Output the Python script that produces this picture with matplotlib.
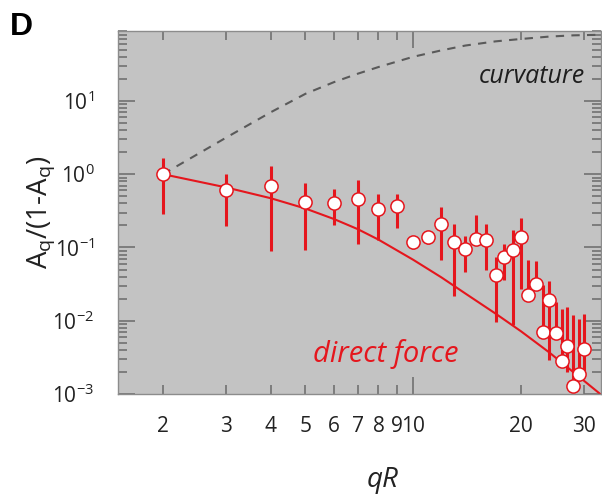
import numpy as np
import matplotlib
matplotlib.use("Agg")
import matplotlib.pyplot as plt

plt.rcParams['font.family'] = ['Open Sans', 'DejaVu Sans']
plt.rcParams['mathtext.fontset'] = 'custom'
plt.rcParams['mathtext.rm'] = 'Open Sans'
plt.rcParams['mathtext.it'] = 'Open Sans:italic'

# measured points: qR, A_q/(1-A_q), error bar top and bottom
qR = [2, 3, 4, 5, 6, 7, 8, 9, 10, 11, 12, 13, 14, 15, 16,
      17, 18, 19, 20, 21, 22, 23, 24, 25, 26, 27, 28, 29, 30]
ratio = [1.0, 0.61, 0.695, 0.415, 0.41, 0.46, 0.333, 0.37, 0.117, 0.141,
         0.211, 0.118, 0.095, 0.132, 0.125, 0.042, 0.074, 0.091, 0.138,
         0.0225, 0.0316, 0.0070, 0.0192, 0.0069, 0.0028, 0.0045, 0.0013,
         0.00186, 0.0041]
err_hi = [1.68, 1.02, 1.31, 0.75, 0.62, 0.83, 0.53, 0.53, 0.142, 0.166,
          0.355, 0.211, 0.144, 0.279, 0.209, 0.075, 0.112, 0.173, 0.252,
          0.068, 0.065, 0.031, 0.035, 0.018, 0.0143, 0.0153, 0.012,
          0.0106, 0.0124]
err_lo = [0.288, 0.198, 0.089, 0.092, 0.205, 0.11, 0.126, 0.185, 0.094, 0.113,
          0.067, 0.022, 0.046, 0.115, 0.049, 0.0096, 0.036, 0.0088, 0.027,
          0.020, 0.027, 0.006, 0.0029, 0.006, 0.0024, 0.002, 0.0011,
          0.0015, 0.0017]

# model curves
direct_x = [2, 3, 4, 5, 6, 7, 8, 10, 12, 14, 17, 20, 24, 28, 33.5]
direct_y = [1.0, 0.66, 0.47, 0.34, 0.245, 0.178, 0.128, 0.068, 0.039,
            0.0235, 0.0125, 0.0072, 0.0037, 0.0020, 0.00098]
curv_x = [2, 3, 4, 5, 6, 7, 8, 10, 12, 14, 17, 20, 24, 28, 33.5]
curv_y = [1.0, 3.15, 7.0, 12.5, 18.0, 23.5, 29, 40, 49, 57, 65, 70,
          75.5, 78.5, 80]

x_minor = [2, 3, 4, 5, 6, 7, 8, 9, 20, 30]
y_major = [1e-3, 1e-2, 1e-1, 1e0, 1e1]
y_labels = [r'$\mathregular{10^{-3}}$', r'$\mathregular{10^{-2}}$',
            r'$\mathregular{10^{-1}}$', r'$\mathregular{10^{0}}$',
            r'$\mathregular{10^{1}}$']

red = '#e5161d'
W, H = 602, 494

fig = plt.figure(figsize=(6.02, 4.94), dpi=100)
ax = fig.add_axes([118 / W, 100 / H, 483 / W, 363 / H])
ax.set_facecolor('#c3c3c3')

ax.plot(curv_x, curv_y, color='#5a5a5a', lw=1.5, dashes=(4, 3.5), zorder=2)
ax.plot(direct_x, direct_y, color=red, lw=1.5, zorder=2)

y = np.array(ratio)
yerr = [y - np.array(err_lo), np.array(err_hi) - y]
ax.errorbar(qR, ratio, yerr=yerr, fmt='none', ecolor=red, elinewidth=2.2,
            capsize=0, zorder=3)
ax.plot(qR, ratio, 'o', ms=9.5, mfc='white', mec=red, mew=1.1, zorder=4)

ax.set_xscale('log')
ax.set_yscale('log')
ax.set_xlim(1.497, 33.5)
ax.set_ylim(1e-3, 85)

ax.set_xticks([10], labels=['10'])
ax.set_xticks(x_minor, labels=[str(v) for v in x_minor], minor=True)
ax.set_yticks(y_major, labels=y_labels)
y_minor = [m * 10.0 ** e for e in range(-3, 2) for m in range(2, 10)]
ax.set_yticks(y_minor, minor=True)
ax.yaxis.set_minor_formatter(plt.NullFormatter())

ax.tick_params(which='both', direction='in', top=True, right=True,
               color='#6a6a6a', width=1.1, labelsize=15, labelcolor='#222222')
ax.tick_params(which='major', length=12)
ax.tick_params(which='minor', length=6.5)
ax.tick_params(axis='x', which='both', pad=16)
ax.tick_params(axis='y', which='both', pad=17)

for s in ax.spines.values():
    s.set_color('#8c8c8c')
    s.set_linewidth(1.0)

ax.set_ylabel('A$_\\mathregular{q}$/(1-A$_\\mathregular{q}$)', fontsize=20,
              color='#222222')
ax.yaxis.set_label_coords(-0.127, 0.5)
ax.set_xlabel('qR', fontsize=20, style='italic', color='#222222', va='baseline')
ax.xaxis.set_label_coords(0.547, -0.255)

fig.text(585 / W, 1 - 82.7 / H, 'curvature', fontsize=18, style='italic',
         color='#1e1e1e', ha='right', va='baseline')
fig.text(313 / W, 1 - 362 / H, 'direct force', fontsize=21, style='italic',
         color=red, ha='left', va='baseline')

fig.text(10 / W, 1 - 35 / H, 'D', fontsize=23, fontweight='bold',
         family='Liberation Sans', va='baseline', ha='left')

fig.savefig('out.png', dpi=100)
